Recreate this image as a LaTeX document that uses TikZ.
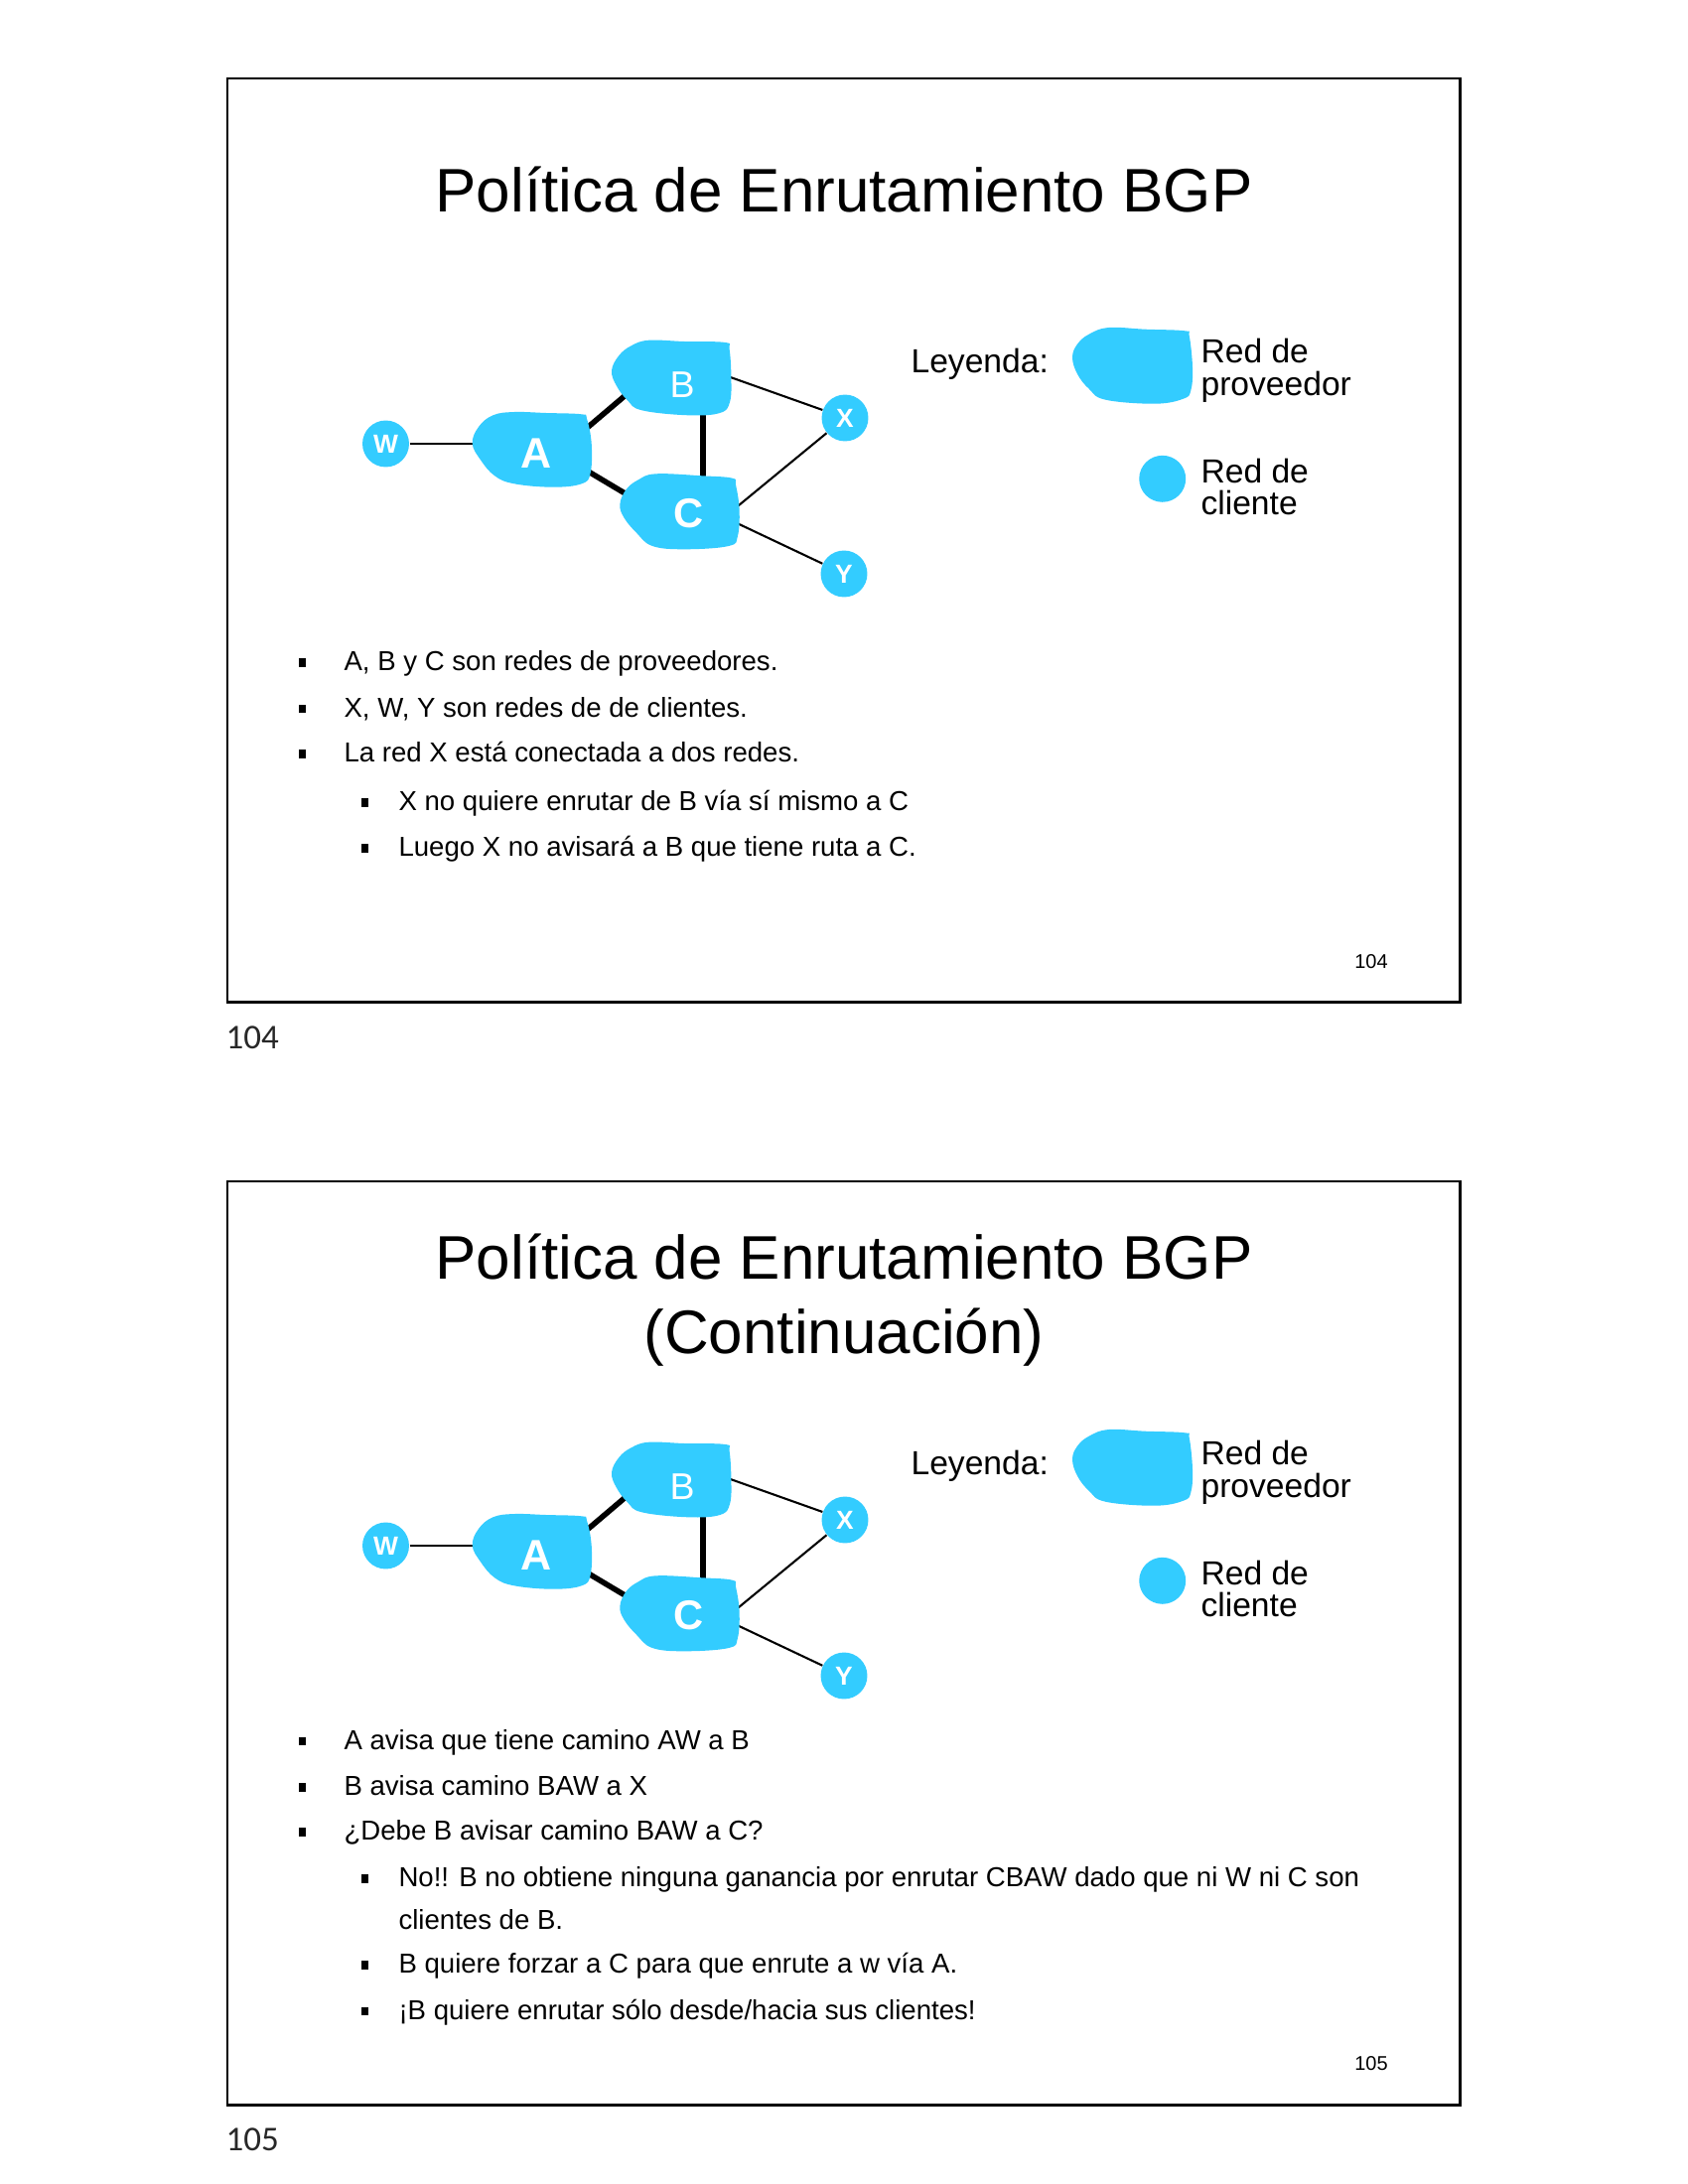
\documentclass[tikz,border=0pt]{standalone}
\usepackage{fontspec}
\setmainfont{Liberation Sans}
\newfontfamily\pagefont{Carlito}
\definecolor{netblue}{RGB}{51,204,255}
\definecolor{pagegray}{RGB}{40,40,40}

\tikzset{
  slideframe/.style={draw=black, line width=1pt},
  peerlink/.style={line width=2pt},
  custlink/.style={line width=0.75pt},
  custnet/.style={circle, fill=netblue, inner sep=0pt, minimum size=16.9pt,
    text=white, font=\fontsize{9.5}{10}\selectfont\bfseries},
  provlabel/.style={text=white, inner sep=0pt},
  blob/.style={fill=netblue},
  titletext/.style={font=\fontsize{22.3}{26}\selectfont, inner sep=0pt, anchor=base},
  bodytext/.style={font=\fontsize{9.93}{12}\selectfont, inner sep=0pt, anchor=base west},
  legendtext/.style={font=\fontsize{12.1}{14}\selectfont, inner sep=0pt, anchor=base west},
  bulletsq/.style={rectangle, fill=black, inner sep=0pt, minimum width=2.6pt, minimum height=3pt},
  slidenum/.style={font=\fontsize{7.2}{8}\selectfont, inner sep=0pt, anchor=base},
  pagenum/.style={font=\pagefont\fontsize{12.6}{14}\selectfont, text=pagegray, inner sep=0pt, anchor=base west},
}

% Provider/customer network diagram with its legend
\newcommand\bgpnet{%
  % customer networks
  \node[custnet] (W) at (388.5,447) {W};
  \node[custnet] (X) at (851,421) {X};
  \node[custnet] (Y) at (850,578) {Y};
  % connection points on the provider networks
  \coordinate (Aw) at (482,447);
  \coordinate (Ab) at (583,438);
  \coordinate (Ac) at (585,470.5);
  \coordinate (Ba) at (636,393);
  \coordinate (Bc) at (708,408);
  \coordinate (Bx) at (730,378);
  \coordinate (Ca) at (637,501.5);
  \coordinate (Cb) at (708,487);
  \coordinate (Cx) at (738,514);
  \coordinate (Cy) at (738,525);
  % links
  \draw[custlink] (W) -- (Aw);
  \draw[peerlink] (Ab) -- (Ba);
  \draw[peerlink] (Ac) -- (Ca);
  \draw[peerlink] (Bc) -- (Cb);
  \draw[custlink] (Bx) -- (X);
  \draw[custlink] (Cx) -- (X);
  \draw[custlink] (Cy) -- (Y);
  % provider networks
  \fill[blob] plot[smooth cycle, tension=0.65] coordinates {
    (475.7,446.7) (482,430) (496.4,418.3) (517.9,415) (550,416) (585.7,417.3)
    (591,421.7) (595.7,446.7) (594.6,476.7) (585.7,487.3) (557,490.7)
    (517.9,487.3) (498.2,479.3) (484,463.3)};
  \fill[blob] plot[smooth cycle, tension=0.65] coordinates {
    (616,373.3) (623.2,358.3) (635.7,348.3) (653.6,342.7) (689.3,344) (730.4,345)
    (734.6,351.7) (736.4,380) (735,405) (725,416) (692.9,418.3) (646.4,413.3)
    (632,403.3) (620.7,388.3)};
  \fill[blob] plot[smooth cycle, tension=0.65] coordinates {
    (624.3,508.3) (630.4,493.3) (642.9,483.3) (660.7,477.3) (707,479.3)
    (737.5,481.7) (741,488.3) (744.6,513.3) (742.9,540) (733.9,550)
    (689.3,553.3) (657,550) (641,536.7) (628.6,521.7)};
  \node[provlabel, font=\fontsize{15.5}{16}\selectfont\bfseries] (A) at (540,457) {A};
  \node[provlabel, font=\fontsize{13.5}{14}\selectfont] (B) at (687,388) {B};
  \node[provlabel, font=\fontsize{15}{16}\selectfont\bfseries] (C) at (694,517) {C};
  % legend
  \node[legendtext] (leg) at (917,375) {Leyenda:};
  \fill[blob] plot[smooth cycle, tension=0.65] coordinates {
    (1080,360) (1085,346.7) (1096.7,336.7) (1116.7,330) (1153.3,331.7)
    (1193.3,333.3) (1197.7,338.3) (1201,370) (1199.3,393.3) (1191.7,401.7)
    (1163.3,406.7) (1113.3,402.7) (1096.7,391.7) (1085,376.7)};
  \node[legendtext] (lp1) at (1209,365) {Red de};
  \node[legendtext] (lp2) at (1209,398.5) {proveedor};
  \node[custnet] (lc) at (1170.7,482.3) {};
  \node[legendtext] (lc1) at (1209,486) {Red de};
  \node[legendtext] (lc2) at (1209,518.5) {cliente};
}

\begin{document}
\begin{tikzpicture}[x=0.36pt, y=-0.36pt]
  \useasboundingbox[fill=white] (0,0) rectangle (1700,2200);

  % ---------- slide 104 ----------
  \begin{scope}[name prefix=s1-]
    \draw[slideframe] (229,79) rectangle (1470.5,1009.6);
    \node[titletext] (title) at (850,214) {Política de Enrutamiento BGP};
    \bgpnet
    \node[bulletsq] (q1) at (304.5,667.5) {};
    \node[bodytext] (t1) at (346,675.5) {A, B y C son redes de proveedores.};
    \node[bulletsq] (q2) at (304.5,714) {};
    \node[bodytext] (t2) at (346,722) {X, W, Y son redes de de clientes.};
    \node[bulletsq] (q3) at (304.5,759.5) {};
    \node[bodytext] (t3) at (346,767.5) {La red X está conectada a dos redes.};
    \node[bulletsq] (q4) at (367.5,808.5) {};
    \node[bodytext] (t4) at (401,816.5) {X no quiere enrutar de B vía sí mismo a C};
    \node[bulletsq] (q5) at (367.5,854.5) {};
    \node[bodytext] (t5) at (401,862.5) {Luego X no avisará a B que tiene ruta a C.};
    \node[slidenum] (num) at (1381,975) {104};
    \node[pagenum] (page) at (227,1056.7) {104};
  \end{scope}

  % ---------- slide 105 ----------
  \begin{scope}[name prefix=s2-]
    \draw[slideframe] (229,1190) rectangle (1470.5,2120.7);
    \node[titletext] (title1) at (850,1288.5) {Política de Enrutamiento BGP};
    \node[titletext] (title2) at (850,1363) {(Continuación)};
    \begin{scope}[shift={(0,1110)}]
      \bgpnet
    \end{scope}
    \node[bulletsq] (q1) at (304.5,1754) {};
    \node[bodytext] (t1) at (346,1762) {A avisa que tiene camino AW a B};
    \node[bulletsq] (q2) at (304.5,1800.5) {};
    \node[bodytext] (t2) at (346,1808.5) {B avisa camino BAW a X};
    \node[bulletsq] (q3) at (304.5,1845.5) {};
    \node[bodytext] (t3) at (346,1853.5) {¿Debe B avisar camino BAW a C?};
    \node[bulletsq] (q4) at (367.5,1892.5) {};
    \node[bodytext] (t4) at (401,1900.5) {No!! B no obtiene ninguna ganancia por enrutar CBAW dado que ni W ni C son};
    \node[bodytext] (t4b) at (401,1943) {clientes de B.};
    \node[bulletsq] (q5) at (367.5,1979.5) {};
    \node[bodytext] (t5) at (401,1987.5) {B quiere forzar a C para que enrute a w vía A.};
    \node[bulletsq] (q6) at (367.5,2026) {};
    \node[bodytext] (t6) at (401,2034) {¡B quiere enrutar sólo desde/hacia sus clientes!};
    \node[slidenum] (num) at (1381,2085) {105};
    \node[pagenum] (page) at (227,2166.7) {105};
  \end{scope}
\end{tikzpicture}
\end{document}
